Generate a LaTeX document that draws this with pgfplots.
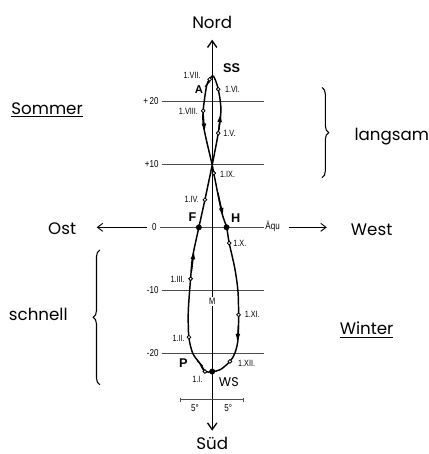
\documentclass[border=0pt]{standalone}
\usepackage{pgfplots}
\pgfplotsset{compat=1.18}
\usepackage{fontspec}
\setmainfont{Poppins}
\newfontfamily\narrow[FakeStretch=0.8]{Liberation Sans}
\newfontfamily\bsans{Liberation Sans}
\usetikzlibrary{arrows.meta,decorations.pathreplacing}
\begin{document}
\begin{tikzpicture}
\begin{axis}[
  scale only axis, width=318.75pt, height=340.5pt,
  xmin=-33.8, xmax=33.9, ymin=-36, ymax=36.1,
  hide axis, clip=false,
]
% bounding box
\addplot[draw=none] coordinates {(-33.8,-36) (33.9,36.1)};
% horizontal declination lines
\addplot[black!70, line width=0.6pt] coordinates {(-8.06,20) (8.2,20)};
\addplot[black!70, line width=0.6pt] coordinates {(-8.06,10) (8.2,10)};
\addplot[black!70, line width=0.6pt] coordinates {(-8.33,0) (8.2,0)};
\addplot[black!70, line width=0.6pt] coordinates {(-8.06,-10) (8.2,-10)};
\addplot[black!70, line width=0.6pt] coordinates {(-8.06,-20) (8.2,-20)};
% Ost / West arrows
\addplot[black, line width=0.7pt, -{Straight Barb[length=4pt,width=6pt]}] coordinates {(-10.45,0) (-18.4,0)};
\addplot[black, line width=0.7pt, -{Straight Barb[length=4pt,width=6pt]}] coordinates {(12.17,0) (18.26,0)};
% vertical axis
\addplot[black, line width=1pt, {Straight Barb[length=5pt,width=7pt]}-{Straight Barb[length=5pt,width=7pt]}] coordinates {(0,-32.3) (0,29.8)};
% 5 degree scale bar
\addplot[black!70, line width=0.6pt, mark=|, mark size=1.5pt, mark options={solid}] coordinates {(-5,-27.4) (5,-27.4)};
% analemma
\addplot[black, line width=1.1pt, smooth, tension=0.55] coordinates {
(-1.16,-22.9) (-1.96,-21.6) (-3.1,-20) (-3.71,-17.45) (-3.82,-14) (-3.7,-11.5)
(-3.44,-8.17) (-3.12,-4.73) (-2.12,0) (-1.16,4.37) (0,9.92) (0.96,14.95)
(1.39,18.65) (0.96,21.94) (0.2,24.0) (-0.4,23.5) (-0.9,22.4) (-1.43,18.5)
(-1.32,15.75) (0,9.92) (0.25,8.6) (1.5,2.5) (2.29,0) (2.71,-2.5) (3.6,-6.5)
(4.1,-10.1) (4.2,-13.9) (4.1,-17.9) (3.6,-20) (2.82,-21.3) (1.3,-22.6)
(0,-22.9) (-1.16,-22.9) (-1.96,-21.6)
};
% direction arrows
\addplot[black, line width=1.1pt, -{Latex[length=7pt,width=3.5pt]}] coordinates {(-3.3,-7.0) (-2.9,-3.6)};
\addplot[black, line width=1.1pt, -{Latex[length=7pt,width=3.5pt]}] coordinates {(0.9,5.5) (1.75,1.6)};
\addplot[black, line width=1.1pt, -{Latex[length=7pt,width=3.5pt]}] coordinates {(4.2,-15.5) (4.0,-18.4)};
\addplot[black, line width=1.1pt, -{Latex[length=7pt,width=3.5pt]}] coordinates {(1.05,15.5) (1.36,18.2)};
\addplot[black, line width=1.1pt, -{Latex[length=7pt,width=3.5pt]}] coordinates {(-1.45,18.0) (-1.2,15.0)};
% aphelion and perihelion ticks
\addplot[black, line width=0.8pt] coordinates {(-1.15,22.3) (-0.35,23.2)};
\addplot[black, line width=0.8pt] coordinates {(-2.4,-21.2) (-1.55,-22.0)};
% month points
\addplot[only marks, mark=*, mark size=1.4pt, mark options={fill=white, draw=black, line width=0.6pt}] coordinates {
(-1.16,-22.9) (-3.71,-17.45) (-3.44,-8.17) (-1.16,4.37) (0.96,14.95) (0.96,21.94)
(-0.4,23.5) (-1.43,18.5) (0.25,8.6) (2.71,-2.5) (4.2,-13.9) (2.82,-21.3)
};
% equinox and solstice points
\addplot[only marks, mark=*, mark size=2pt, black] coordinates {(-2.12,0) (2.29,0) (0,-22.9)};
% M label (gap in axis)
\node[fill=white, inner sep=0.8pt, font=\narrow\fontsize{7}{8}\selectfont] at (axis cs:0,-11.8) {M};
% tick labels
\begin{scope}[every node/.style={font=\narrow\fontsize{7.5}{8}\selectfont, inner sep=0pt, anchor=east}]
\node at (axis cs:-8.5,20) {+\,20};
\node at (axis cs:-8.5,10) {+10};
\node at (axis cs:-8.8,0) {0};
\node at (axis cs:-8.5,-10) {-10};
\node at (axis cs:-8.5,-20) {-20};
\end{scope}
\node[anchor=west, inner sep=0pt, font=\narrow\fontsize{7.5}{8}\selectfont] at (axis cs:8.45,0.1) {Äqu};
% month labels
\begin{scope}[every node/.style={font=\narrow\fontsize{6.8}{7}\selectfont, inner sep=0pt}]
\node[anchor=east] at (axis cs:-1.8,24.05) {1.VII.};
\node[anchor=west] at (axis cs:2.0,21.9) {1.VI.};
\node[anchor=east] at (axis cs:-2.23,18.4) {1.VIII.};
\node[anchor=west] at (axis cs:1.75,14.95) {1.V.};
\node[anchor=west] at (axis cs:1.23,8.35) {1.IX.};
\node[anchor=east] at (axis cs:-2.07,4.37) {1.IV.};
\node[anchor=west] at (axis cs:3.34,-2.5) {1.X.};
\node[anchor=east] at (axis cs:-4.35,-8.2) {1.III.};
\node[anchor=west] at (axis cs:5.16,-13.9) {1.XI.};
\node[anchor=east] at (axis cs:-4.35,-17.6) {1.II.};
\node[anchor=west] at (axis cs:4.1,-21.55) {1.XII.};
\node at (axis cs:-2.36,-24.1) {1.I.};
\end{scope}
% special point labels
\begin{scope}[every node/.style={font=\bsans\bfseries\fontsize{9.5}{10}\selectfont, inner sep=0pt}]
\node at (axis cs:3.09,25.27) {SS};
\node at (axis cs:-3.12,1.62) {F};
\node at (axis cs:3.73,1.46) {H};
\node at (axis cs:-4.6,-21.6) {P};
\node[font=\bsans\bfseries\fontsize{8.5}{9}\selectfont] at (axis cs:-2.12,21.9) {A};
\node[font=\fontsize{9.5}{10}\selectfont] at (axis cs:2.66,-24.5) {WS};
\end{scope}
% 5 degree labels
\node[font=\narrow\fontsize{7.5}{8}\selectfont] at (axis cs:-2.75,-28.7) {5°};
\node[font=\narrow\fontsize{7.5}{8}\selectfont] at (axis cs:2.55,-28.7) {5°};
% large words
\begin{scope}[every node/.style={font=\fontsize{12.5}{14}\selectfont, inner sep=0pt}]
\node at (axis cs:0,32.5) {Nord};
\node at (axis cs:0,-34.3) {Süd};
\node at (axis cs:-23.9,-0.2) {Ost};
\node at (axis cs:25.4,-0.4) {West};
\node at (axis cs:-26.3,18.65) {\underline{Sommer}};
\node at (axis cs:24.6,-16.3) {\underline{Winter}};
\node at (axis cs:28.6,14.4) {langsam};
\node at (axis cs:-27.7,-13.9) {schnell};
\end{scope}
% braces
\draw[black, line width=0.8pt, decorate, decoration={brace, amplitude=5pt}] (axis cs:17.5,22.2) -- (axis cs:17.5,7.9);
\draw[black, line width=0.8pt, decorate, decoration={brace, amplitude=5pt}] (axis cs:-17.9,-25) -- (axis cs:-17.9,-3.6);
\end{axis}
\end{tikzpicture}
\end{document}
